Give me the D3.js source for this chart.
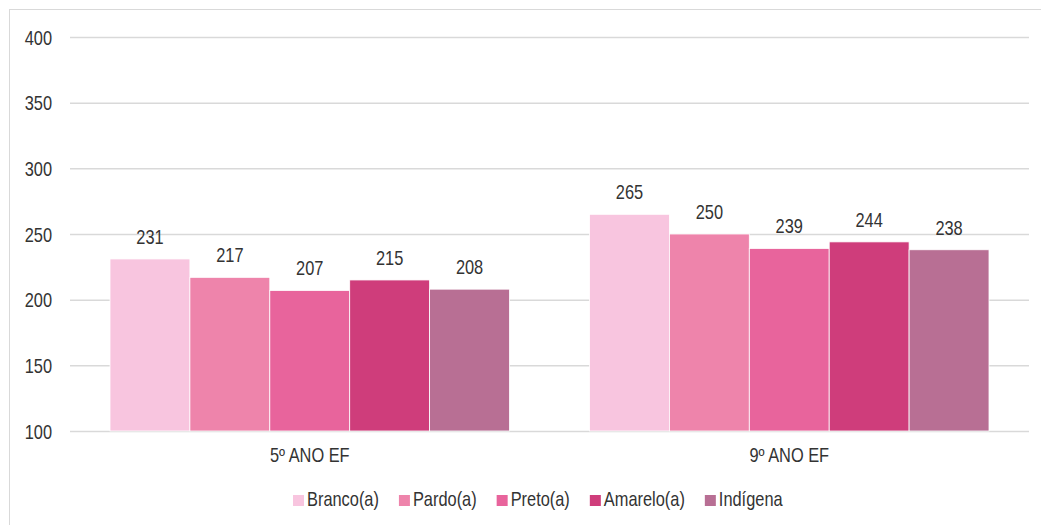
<!DOCTYPE html>
<html>
<head>
<meta charset="utf-8">
<script src="https://cdn.jsdelivr.net/npm/d3@7"></script>
<style>
  html, body { margin: 0; padding: 0; background: #fff; }
  svg { display: block; font-family: "Liberation Sans", Arial, sans-serif; }
</style>
</head>
<body>
<svg id="chart" width="1041" height="525"></svg>
<script>
// School years and proficiency by race/colour
const categories = ["5º ANO EF", "9º ANO EF"];
const seriesNames = ["Branco(a)", "Pardo(a)", "Preto(a)", "Amarelo(a)", "Indígena"];
const seriesColors = ["#F8C5DF", "#EE84AB", "#E8649C", "#CF3D7B", "#B86F94"];
const branco = [231, 265];
const pardo = [217, 250];
const preto = [207, 239];
const amarelo = [215, 244];
const indigena = [208, 238];
const yTicks = [100, 150, 200, 250, 300, 350, 400];

const seriesValues = [branco, pardo, preto, amarelo, indigena];

const svg = d3.select("#chart");
const W = 1041, H = 525;
const margin = { left: 70, right: 12, top: 37, bottom: 94 };
const FS = 20;
const SX = 0.82;           // condensed type
const textColor = "#333";

// place a text at (x, y) with a narrowed glyph width
function placeNarrow(sel, fx, fy) {
  sel.attr("x", 0).attr("y", 0)
    .attr("transform", (d, i) => `translate(${fx(d, i)},${fy(d, i)}) scale(${SX},1)`);
}

// outer frame
svg.append("rect")
  .attr("x", 9.5).attr("y", 9.5)
  .attr("width", W + 10).attr("height", H + 10)
  .attr("fill", "none").attr("stroke", "#d9d9d9").attr("stroke-width", 1);

const x0 = d3.scaleBand()
  .domain(categories)
  .range([margin.left, W - margin.right]);

const x1 = d3.scaleBand()
  .domain(seriesNames)
  .range([40, x0.bandwidth() - 40]);

const y = d3.scaleLinear()
  .domain([100, 400])
  .range([H - margin.bottom, margin.top]);

// value axis with gridlines
const yAxis = d3.axisLeft(y)
  .tickValues(yTicks)
  .tickSize(-(W - margin.right - margin.left))
  .tickPadding(18)
  .tickFormat(d3.format("d"));

const gy = svg.append("g")
  .attr("transform", `translate(${margin.left},0)`)
  .call(yAxis);
gy.select(".domain").remove();
gy.selectAll(".tick line").attr("stroke", "#d9d9d9").attr("stroke-width", 1.5);
gy.selectAll(".tick text")
  .attr("fill", textColor).attr("font-size", FS)
  .attr("font-family", null)
  .attr("dy", null)
  .call(placeNarrow, () => -18, () => 7);

// bars and value labels
const groups = svg.append("g").selectAll("g")
  .data(categories)
  .join("g")
  .attr("transform", d => `translate(${x0(d)},0)`);

groups.each(function(cat, ci) {
  const g = d3.select(this);
  const rows = seriesNames.map((s, si) => ({ s, si, v: seriesValues[si][ci] }));
  g.selectAll("rect")
    .data(rows)
    .join("rect")
    .attr("x", d => x1(d.s))
    .attr("width", x1.bandwidth())
    .attr("y", d => y(d.v))
    .attr("height", d => y(100) - y(d.v))
    .attr("fill", d => seriesColors[d.si])
    .attr("stroke", "#fff")
    .attr("stroke-width", 0.8);
  g.selectAll("text.val")
    .data(rows)
    .join("text")
    .attr("class", "val")
    .attr("text-anchor", "middle")
    .attr("font-size", FS)
    .attr("fill", textColor)
    .text(d => d.v)
    .call(placeNarrow, d => x1(d.s) + x1.bandwidth() / 2, d => y(d.v) - 15);
});

// category labels
svg.append("g").selectAll("text")
  .data(categories)
  .join("text")
  .attr("text-anchor", "middle")
  .attr("font-size", FS)
  .attr("fill", textColor)
  .text(d => d)
  .call(placeNarrow, d => x0(d) + x0.bandwidth() / 2, () => y(100) + 31);

// legend
const legend = svg.append("g").attr("transform", "translate(0,506)");
const items = legend.selectAll("g")
  .data(seriesNames)
  .join("g");
items.append("rect")
  .attr("y", -11).attr("width", 11).attr("height", 11)
  .attr("fill", (d, i) => seriesColors[i]);
items.append("text")
  .attr("font-size", FS).attr("fill", textColor)
  .text(d => d)
  .call(placeNarrow, () => 14, () => 0);
const widths = [];
items.each(function() { widths.push(this.getBBox().width); });
const gap = 20;
let cx = 293;
items.attr("transform", (d, i) => {
  const t = `translate(${cx},0)`;
  cx += widths[i] + gap;
  return t;
});
</script>
</body>
</html>
